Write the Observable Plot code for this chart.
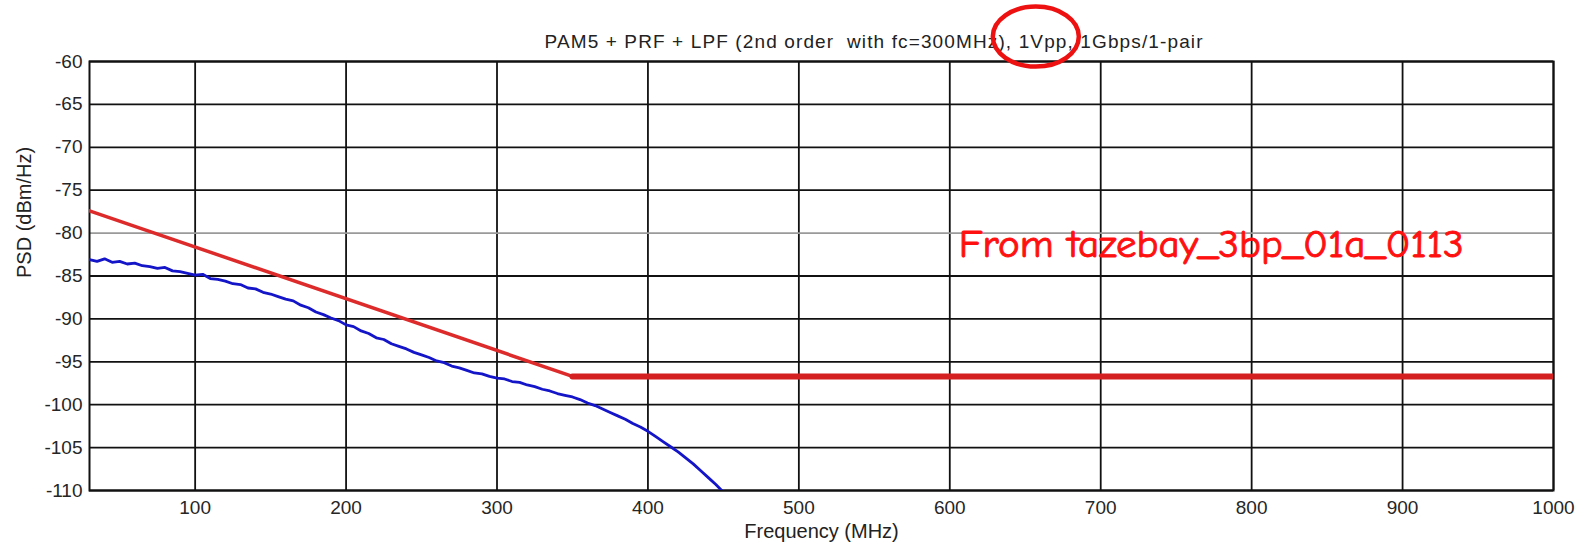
<!DOCTYPE html>
<html>
<head>
<meta charset="utf-8">
<script src="https://cdn.jsdelivr.net/npm/d3@7"></script>
<script src="https://cdn.jsdelivr.net/npm/@observablehq/plot@0.6"></script>
<style>
  html, body { margin: 0; padding: 0; background: #ffffff; }
  #chart svg { display: block; }
</style>
</head>
<body>
<div id="chart"></div>
<script>
// ---- data ----
const title = "PAM5 + PRF + LPF (2nd order  with fc=300MHz), 1Vpp, 1Gbps/1-pair";
const xLabel = "Frequency (MHz)";
const yLabel = "PSD (dBm/Hz)";
const note = "From tazebay_3bp_01a_0113";

const xTicks = [100, 200, 300, 400, 500, 600, 700, 800, 900, 1000];
const yTicks = [-60, -65, -70, -75, -80, -85, -90, -95, -100, -105, -110];

// red mask line (frequency MHz, PSD dBm/Hz)
const maskFreq = [30, 350, 1000];
const maskPSD = [-77.4, -96.7, -96.7];

// blue measured PSD
const psdFreq = [30, 35, 40, 45, 50, 55, 60, 65, 70, 75, 80, 85, 90, 95, 100,
  105, 110, 115, 120, 125, 130, 135, 140, 145, 150, 155, 160, 165, 170, 175,
  180, 185, 190, 195, 200, 205, 210, 215, 220, 225, 230, 235, 240, 245, 250,
  255, 260, 265, 270, 275, 280, 285, 290, 295, 300, 305, 310, 315, 320, 325,
  330, 335, 340, 345, 350, 355, 360, 365, 370, 375, 380, 385, 390, 395, 400,
  405, 410, 415, 420, 425, 430, 435, 440, 445, 450];
const psdValue = [-83.1, -83.3, -83.0, -83.4, -83.3, -83.6, -83.5, -83.8, -83.9, -84.1,
  -84.0, -84.4, -84.5, -84.7, -84.9, -84.8, -85.3, -85.4, -85.6, -85.9,
  -86.0, -86.4, -86.5, -86.9, -87.1, -87.4, -87.7, -87.9, -88.4, -88.7,
  -89.2, -89.5, -89.9, -90.2, -90.7, -90.9, -91.4, -91.7, -92.2, -92.4,
  -92.9, -93.2, -93.5, -93.9, -94.2, -94.5, -94.9, -95.1, -95.5, -95.7,
  -96.0, -96.3, -96.4, -96.7, -96.9, -97.0, -97.3, -97.4, -97.7, -97.9,
  -98.2, -98.4, -98.7, -98.9, -99.1, -99.4, -99.8, -100.1, -100.5, -100.9,
  -101.3, -101.7, -102.2, -102.6, -103.1, -103.7, -104.3, -104.9, -105.5, -106.2,
  -106.9, -107.7, -108.5, -109.3, -110.2];

// annotation anchors (data coordinates)
const noteAt = {f: 606, v: -81.4};
const ringAt = {f: 657, v: -57.1};

// ---- build tables ----
const mask = maskFreq.map((f, i) => ({f, v: maskPSD[i]}));
const psd = psdFreq.map((f, i) => ({f, v: psdValue[i]}));

const font = "'Liberation Sans', Arial, Helvetica, sans-serif";
const fmt = d => String(d);

// ellipse symbol for the red ring
const ellipse = {
  draw(ctx) {
    const rx = 43, ry = 30, k = 0.5523;
    ctx.moveTo(rx, 0);
    ctx.bezierCurveTo(rx, ry * k, rx * k, ry, 0, ry);
    ctx.bezierCurveTo(-rx * k, ry, -rx, ry * k, -rx, 0);
    ctx.bezierCurveTo(-rx, -ry * k, -rx * k, -ry, 0, -ry);
    ctx.bezierCurveTo(rx * k, -ry, rx, -ry * k, rx, 0);
    ctx.closePath();
  }
};

const chart = Plot.plot({
  width: 1589,
  height: 546,
  marginLeft: 89,
  marginRight: 36,
  marginTop: 61,
  marginBottom: 56,
  style: {fontFamily: font, fontSize: "19px", color: "#262626", background: "#ffffff"},
  x: {domain: [30, 1000], ticks: xTicks, tickSize: 0, tickPadding: 10, tickFormat: fmt, label: null},
  y: {domain: [-110, -60], ticks: yTicks, tickSize: 0, tickPadding: 7, tickFormat: fmt, label: null},
  marks: [
    Plot.gridX(xTicks, {stroke: "#111", strokeOpacity: 1, strokeWidth: 1.8}),
    Plot.gridY(yTicks.filter(d => d !== -80), {stroke: "#111", strokeOpacity: 1, strokeWidth: 1.8}),
    Plot.gridY([-80], {stroke: "#9a9a9a", strokeOpacity: 1, strokeWidth: 1.6}),
    Plot.frame({stroke: "#111", strokeWidth: 2}),
    Plot.line(psd, {x: "f", y: "v", stroke: "#1414c8", strokeWidth: 2.8, clip: true}),
    Plot.line(mask.slice(0, 2), {x: "f", y: "v", stroke: "#dd2a2a", strokeWidth: 3.5, clip: true}),
    Plot.line(mask.slice(1), {x: "f", y: "v", stroke: "#d42020", strokeWidth: 6, clip: true}),
    Plot.text([note], {x: () => noteAt.f, y: () => noteAt.v, text: d => d, textAnchor: "start",
      lineAnchor: "middle", fill: "#ff1010", stroke: "#ff1010", strokeWidth: 0.9, fontSize: 38,
      fontFamily: "'Comic Sans MS', 'Comic Neue', 'DejaVu Sans', sans-serif"}),
    Plot.text([title], {frameAnchor: "top", dx: 52, dy: -20, text: d => d, lineAnchor: "middle",
      fill: "#222", fontSize: 19}),
    Plot.text([xLabel], {frameAnchor: "bottom", dy: 41, text: d => d, lineAnchor: "middle",
      fill: "#222", fontSize: 20}),
    Plot.text([yLabel], {frameAnchor: "left", dx: -65, dy: 2, rotate: -90, text: d => d,
      lineAnchor: "middle", fill: "#222", fontSize: 20}),
    Plot.dot([ringAt], {x: "f", y: "v", symbol: ellipse, r: 30, stroke: "#ee1111", strokeWidth: 4.5, fill: "none"})
  ]
});

document.getElementById("chart").appendChild(chart);

// stretch texts to the widths seen in the reference
const svg = d3.select(chart.tagName.toLowerCase() === "svg" ? chart : chart.querySelector("svg"));
svg.selectAll("text").filter(function () { return this.textContent === title; })
  .attr("textLength", 658).attr("lengthAdjust", "spacing");
svg.selectAll("text").filter(function () { return this.textContent === note; })
  .attr("textLength", 505).attr("lengthAdjust", "spacingAndGlyphs");
</script>
</body>
</html>
